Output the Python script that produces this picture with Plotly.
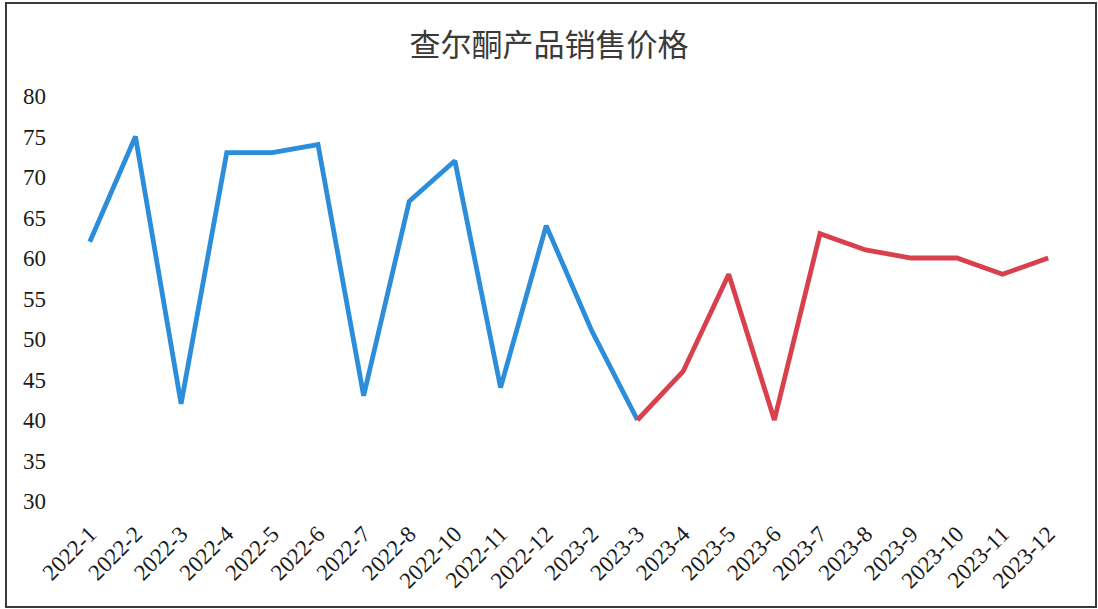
import plotly.graph_objects as go

categories = ["2022-1", "2022-2", "2022-3", "2022-4", "2022-5", "2022-6", "2022-7",
              "2022-8", "2022-10", "2022-11", "2022-12", "2023-2", "2023-3", "2023-4",
              "2023-5", "2023-6", "2023-7", "2023-8", "2023-9", "2023-10", "2023-11",
              "2023-12"]
prices = [62, 75, 42, 73, 73, 74, 43, 67, 72, 44, 64, 51, 40, 46, 58, 40, 63, 61, 60, 60, 58, 60]
split_index = 12  # 2023-3: blue segment ends, red segment begins
y_ticks = [30, 35, 40, 45, 50, 55, 60, 65, 70, 75, 80]
title_text = "查尔酮产品销售价格"

W, H = 1098, 609

fig = go.Figure()
fig.add_trace(go.Scatter(
    x=categories[:split_index + 1], y=prices[:split_index + 1],
    mode="lines", line=dict(color="#2C8EDB", width=4.8), showlegend=False))
fig.add_trace(go.Scatter(
    x=categories[split_index:], y=prices[split_index:],
    mode="lines", line=dict(color="#D8404D", width=4.8), showlegend=False))

fig.update_layout(
    width=W, height=H,
    margin=dict(l=0, r=0, t=0, b=0),
    paper_bgcolor="white", plot_bgcolor="white",
    title=dict(text=title_text, x=0.5, xanchor="center", y=1 - 45 / H, yanchor="middle",
               font=dict(family="Noto Sans CJK SC", size=31, color="#3a3a3a")),
    xaxis=dict(
        domain=[67 / W, 1071 / W],
        type="category", categoryorder="array", categoryarray=categories,
        range=[-0.5, len(categories) - 0.5],
        showgrid=False, zeroline=False, showline=False, ticks="",
        tickangle=-45, automargin=False, ticklabelstandoff=14,
        tickfont=dict(family="Liberation Serif", size=23, color="#1a1a1a"),
    ),
    yaxis=dict(
        domain=[(H - 501) / H, (H - 96) / H],
        range=[30, 80], tickvals=y_ticks,
        showgrid=False, zeroline=False, showline=False, ticks="",
        automargin=False, ticklabelstandoff=20,
        tickfont=dict(family="Liberation Serif", size=23, color="#1a1a1a"),
    ),
    shapes=[dict(type="rect", xref="paper", yref="paper",
                 x0=6 / W, x1=1096 / W, y0=2 / H, y1=1 - 3 / H,
                 line=dict(color="#3a3a3a", width=2), fillcolor="rgba(0,0,0,0)")],
)

fig.write_html("out.html", config={"displayModeBar": False},
               post_script="document.body.style.margin='0';document.body.style.overflow='hidden';")
